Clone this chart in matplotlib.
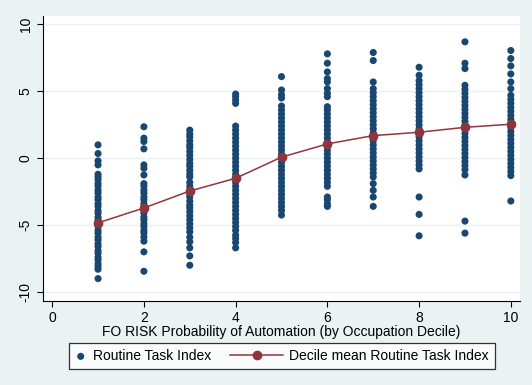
import numpy as np
import matplotlib.pyplot as plt
from matplotlib.lines import Line2D
from matplotlib.legend_handler import HandlerLine2D

plt.rcParams['font.family'] = ['Liberation Sans', 'DejaVu Sans']

# decile means of the routine task index
deciles = [1, 2, 3, 4, 5, 6, 7, 8, 9, 10]
decile_means = [-4.83, -3.72, -2.45, -1.5, 0.08, 1.07, 1.69, 1.94, 2.31, 2.54]

rti_d1 = [1.0, 0.35, -0.2, -0.5, -1.2, -1.4, -1.6, -1.9, -2.1, -2.4, -2.6, -2.9, -3.1, -3.4,
          -3.6, -3.9, -4.1, -4.4, -4.6, -4.9, -5.1, -5.4, -5.6, -5.9, -6.1, -6.4, -6.6, -6.9,
          -7.1, -7.4, -7.6, -7.9, -8.1, -8.3, -9.0]
rti_d2 = [2.35, 1.5, 1.25, 0.7, -0.5, -0.75, -1.25, -1.9, -2.1, -2.4, -2.6, -2.9, -3.1, -3.4,
          -3.6, -3.9, -4.1, -4.4, -4.6, -4.9, -5.1, -5.4, -5.6, -5.9, -6.2, -7.0, -8.45]
rti_d3 = [2.1, 1.8, 1.6, 1.3, 1.0, 0.8, 0.5, 0.2, -0.1, -0.4, -0.6, -0.9, -1.2, -1.4, -1.8,
          -2.1, -2.4, -2.7, -2.9, -3.2, -3.5, -3.7, -4.0, -4.3, -4.6, -4.9, -5.2, -5.5, -5.9,
          -6.25, -6.7, -7.3, -8.0]
rti_d4 = [4.8, 4.6, 4.35, 4.1, 2.4, 2.1, 1.8, 1.5, 1.2, 0.9, 0.6, 0.3, 0.0, -0.3, -0.6, -0.9,
          -1.2, -1.5, -1.8, -2.1, -2.4, -2.7, -3.0, -3.3, -3.6, -3.9, -4.2, -4.5, -4.8, -5.1,
          -5.4, -5.75, -6.0, -6.3, -6.7]
rti_d5 = [6.1, 5.1, 4.75, 4.5, 3.9, 3.6, 3.3, 3.0, 2.7, 2.4, 2.1, 1.8, 1.5, 1.2, 0.9, 0.6, 0.3,
          0.0, -0.3, -0.6, -0.9, -1.2, -1.5, -1.8, -2.1, -2.4, -2.7, -3.0, -3.3, -3.6, -3.9, -4.25]
rti_d6 = [7.8, 7.1, 6.45, 5.95, 5.7, 5.2, 4.85, 4.6, 3.85, 3.6, 3.3, 3.0, 2.7, 2.4, 2.1, 1.8,
          1.5, 1.2, 0.9, 0.6, 0.3, 0.0, -0.3, -0.6, -0.9, -1.2, -1.5, -1.8, -2.1, -2.9, -3.1,
          -3.4, -3.6]
rti_d7 = [7.9, 7.3, 5.7, 5.2, 4.9, 4.6, 4.3, 4.0, 3.7, 3.4, 3.1, 2.8, 2.5, 2.2, 1.9, 1.6, 1.3,
          1.0, 0.7, 0.4, 0.1, -0.2, -0.5, -0.8, -1.1, -1.4, -1.9, -2.4, -2.9, -3.6]
rti_d8 = [6.8, 6.2, 5.8, 5.5, 5.2, 4.9, 4.6, 4.3, 4.0, 3.7, 3.4, 3.1, 2.8, 2.5, 2.2, 1.9, 1.6,
          1.3, 1.0, 0.7, 0.4, 0.1, -0.2, -0.5, -0.8, -2.9, -4.2, -5.8]
rti_d9 = [8.7, 7.1, 6.7, 5.45, 5.15, 4.85, 4.55, 4.25, 3.95, 3.65, 3.35, 3.05, 2.75, 2.45,
          2.15, 1.85, 1.55, 1.25, 0.95, 0.65, 0.35, 0.05, -0.25, -0.55, -0.85, -1.25, -4.7, -5.6]
rti_d10 = [8.05, 7.45, 6.9, 6.3, 5.7, 5.2, 4.7, 4.4, 4.1, 3.8, 3.5, 3.2, 2.9, 2.6, 2.3, 2.0,
           1.7, 1.4, 1.1, 0.8, 0.5, 0.2, -0.1, -0.4, -0.7, -1.0, -1.3, -3.2]

xticks = [0, 2, 4, 6, 8, 10]
yticks = [-10, -5, 0, 5, 10]

navy = '#1a476f'
maroon = '#90353b'
bg = '#eaf2f3'


class WideLineHandler(HandlerLine2D):
    # stata-style legend key: the line key reaches further left than the dot key
    def __init__(self, extend, **kw):
        super().__init__(**kw)
        self.extend = extend

    def create_artists(self, legend, orig_handle, xdescent, ydescent, width, height,
                       fontsize, trans):
        x0 = -xdescent - self.extend * fontsize
        x1 = -xdescent + width
        y = height / 2.0 - ydescent
        line = Line2D([x0, x1], [y, y], color=orig_handle.get_color(),
                      lw=orig_handle.get_linewidth())
        dot = Line2D([(x0 + x1) / 2.0], [y], ls='none', marker='o',
                     ms=orig_handle.get_markersize(), color=orig_handle.get_color())
        line.set_transform(trans)
        dot.set_transform(trans)
        return [line, dot]


rti_all = [rti_d1, rti_d2, rti_d3, rti_d4, rti_d5, rti_d6, rti_d7, rti_d8, rti_d9, rti_d10]
xs = np.concatenate([[d] * len(v) for d, v in zip(deciles, rti_all)])
ys = np.concatenate(rti_all)

fig = plt.figure(figsize=(5.32, 3.85), dpi=100, facecolor=bg)
ax = fig.add_axes([43 / 532, 1 - 300.7 / 385, (520 - 43) / 532, (300.7 - 16) / 385])
ax.set_facecolor('white')

for y in yticks:
    ax.axhline(y, color=bg, lw=1, zorder=0)

sc = ax.scatter(xs, ys, s=26, color=navy, edgecolors='none', zorder=2,
                label='Routine Task Index')
ln, = ax.plot(deciles, decile_means, color=maroon, lw=1.1, marker='o', ms=6,
              zorder=3, label='Decile mean Routine Task Index')

ax.set_xlim(-0.2, 10.2)
ax.set_ylim(-10.65, 10.63)
ax.set_xticks(xticks)
ax.set_yticks(yticks)
ax.set_yticklabels([str(t) for t in yticks], rotation=90, va='center')
ax.tick_params(direction='out', length=4, width=0.8, labelsize=10, colors='black')
for s in ['top', 'right']:
    ax.spines[s].set_visible(False)
for s in ['left', 'bottom']:
    ax.spines[s].set_linewidth(0.8)
ax.set_xlabel('FO RISK Probability of Automation (by Occupation Decile)', fontsize=10,
              labelpad=0)

leg = fig.legend(handles=[sc, ln], loc='center', ncol=2,
                 bbox_to_anchor=(282 / 532, 1 - 356 / 385), fontsize=10,
                 frameon=True, fancybox=False, handlelength=0.8, columnspacing=4.4,
                 borderpad=0.45, handletextpad=0.45,
                 handler_map={ln: WideLineHandler(extend=3.0)})
leg.get_frame().set_edgecolor('black')
leg.get_frame().set_linewidth(0.9)

fig.savefig('out.png', dpi=100, facecolor=bg)
